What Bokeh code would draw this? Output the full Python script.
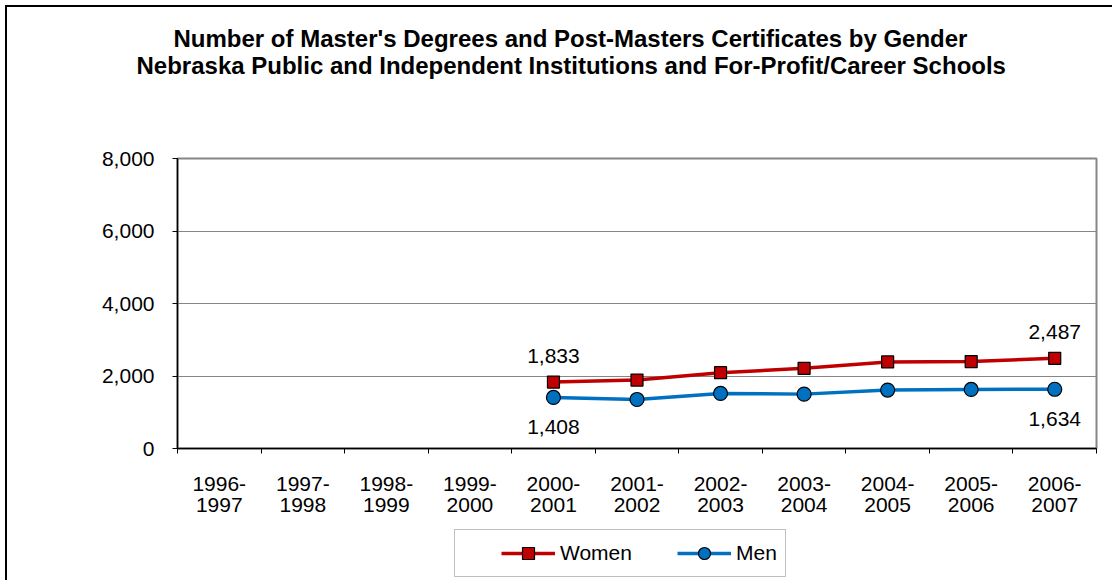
from bokeh.plotting import figure
from bokeh.layouts import column
from bokeh.models import (ColumnDataSource, FixedTicker, NumeralTickFormatter, Range1d,
                          Legend, LegendItem, LabelSet, Title)
from bokeh.core.properties import value
from bokeh.embed import file_html
from bokeh.resources import INLINE

# ---- data ----
years = ["1996-1997", "1997-1998", "1998-1999", "1999-2000", "2000-2001", "2001-2002",
         "2002-2003", "2003-2004", "2004-2005", "2005-2006", "2006-2007"]
women = [None, None, None, None, 1833, 1888, 2092, 2212, 2388, 2397, 2487]
men = [None, None, None, None, 1408, 1352, 1519, 1500, 1612, 1630, 1634]
y_ticks = [0, 2000, 4000, 6000, 8000]
title_lines = ["Number of Master's Degrees and Post-Masters Certificates by Gender",
               "Nebraska Public and Independent Institutions and For-Profit/Career Schools"]

FONT = "Liberation Sans"
FS = "21px"
WOMEN_C, MEN_C = "#C00000", "#0070C0"

xs = [i + 0.5 for i in range(len(years))]
wv = [float("nan") if v is None else v for v in women]
mv = [float("nan") if v is None else v for v in men]
src = ColumnDataSource(dict(x=xs, women=wv, men=mv))

p = figure(width=1105, height=521, frame_width=919, frame_height=290,
           output_backend="svg", toolbar_location=None, title=None,
           x_range=Range1d(0, len(years)), y_range=Range1d(0, 8000),
           min_border_left=170, min_border_right=16, min_border_top=151,
           min_border_bottom=80)
p.background_fill_color = "white"
p.border_fill_color = "white"
p.outline_line_color = "#868686"
p.outline_line_width = 2

# x axis: labels at centres, ticks at boundaries (minor ticks)
xa = p.xaxis[0]
xa.ticker = FixedTicker(ticks=xs, minor_ticks=list(range(len(years) + 1)))
xa.major_label_overrides = {x: y.replace("-", "-\n", 1) for x, y in zip(xs, years)}
xa.major_tick_line_color = None
xa.major_tick_out = 0
xa.major_tick_in = 0
xa.minor_tick_line_color = "black"
xa.minor_tick_out = 5
xa.minor_tick_in = 0
xa.axis_line_color = "black"
xa.axis_line_width = 1.5
xa.major_label_standoff = 18
xa.major_label_text_font = FONT
xa.major_label_text_font_size = FS
xa.major_label_text_color = "black"
xa.major_label_text_line_height = 0.95

ya = p.yaxis[0]
ya.ticker = FixedTicker(ticks=y_ticks)
ya.formatter = NumeralTickFormatter(format="0,0")
ya.minor_tick_line_color = None
ya.major_tick_out = 5
ya.major_tick_in = 0
ya.major_tick_line_color = "black"
ya.axis_line_color = "black"
ya.axis_line_width = 1.5
ya.major_label_standoff = 18
ya.major_label_text_font = FONT
ya.major_label_text_font_size = FS
ya.major_label_text_color = "black"

p.xgrid.grid_line_color = None
p.ygrid.grid_line_color = "#868686"
p.ygrid.grid_line_width = 1

# series
p.line("x", "women", source=src, line_color=WOMEN_C, line_width=3.5)
p.scatter("x", "women", source=src, marker="square", size=12,
          fill_color=WOMEN_C, line_color="black", line_width=1.2)
p.line("x", "men", source=src, line_color=MEN_C, line_width=3.5)
p.scatter("x", "men", source=src, marker="circle", size=14,
          fill_color=MEN_C, line_color="black", line_width=1.2)

# data labels at first and last points
def ends(vals):
    idx = [i for i, v in enumerate(vals) if v is not None]
    return [idx[0], idx[-1]]

wi, mi = ends(women), ends(men)
wlab = ColumnDataSource(dict(x=[xs[i] for i in wi], y=[women[i] for i in wi],
                             t=[f"{women[i]:,}" for i in wi]))
mlab = ColumnDataSource(dict(x=[xs[i] for i in mi], y=[men[i] for i in mi],
                             t=[f"{men[i]:,}" for i in mi]))
for s, off in ((wlab, 26), (mlab, -30)):
    p.add_layout(LabelSet(x="x", y="y", text="t", source=s, y_offset=off,
                          text_align="center", text_baseline="middle",
                          text_font=value(FONT), text_font_size=value(FS),
                          text_color="black"))

# title: spacer nearest the plot, then line 2, then line 1
p.add_layout(Title(text=" ", standoff=66, text_font_size="10px"), "above")
p.add_layout(Title(text=title_lines[1], align="left", offset=-41, standoff=1,
                   text_font=FONT, text_font_size="24px", text_font_style="bold",
                   text_color="black"), "above")
p.add_layout(Title(text=title_lines[0], align="left", offset=-4, standoff=-5,
                   text_font=FONT, text_font_size="24px", text_font_style="bold",
                   text_color="black"), "above")

# legend strip (its own small figure, glyphs styled like the series)
lg = figure(width=1105, height=52, output_backend="svg", toolbar_location=None,
            title=None, x_axis_location=None, y_axis_location=None,
            x_range=Range1d(0, 1), y_range=Range1d(0, 1),
            min_border_left=0, min_border_right=0, min_border_top=0, min_border_bottom=0)
lg.outline_line_color = None
lg.grid.visible = False
lg.background_fill_color = "white"
lg.border_fill_color = "white"
nan = float("nan")
e = dict(x=[nan], y=[nan])
lwl = lg.line(x="x", y="y", source=ColumnDataSource(e), line_color=WOMEN_C, line_width=3.5)
lws = lg.scatter(x="x", y="y", source=ColumnDataSource(e), marker="square", size=12,
                 fill_color=WOMEN_C, line_color="black", line_width=1.2)
lml = lg.line(x="x", y="y", source=ColumnDataSource(e), line_color=MEN_C, line_width=3.5)
lms = lg.scatter(x="x", y="y", source=ColumnDataSource(e), marker="circle", size=12,
                 fill_color=MEN_C, line_color="black", line_width=1.2)

legend = Legend(items=[LegendItem(label="Women", renderers=[lwl, lws]),
                       LegendItem(label="Men", renderers=[lml, lms])],
                orientation="horizontal", location=(277, 3),
                title=" ", title_location="left", title_standoff=14,
                title_text_font=FONT, title_text_font_size=FS,
                glyph_width=54, glyph_height=30, label_standoff=5, spacing=45,
                padding=8, margin=0, border_line_color="#808080", border_line_width=1,
                background_fill_color="white",
                label_text_font=FONT, label_text_font_size=FS, label_text_color="black")
lg.add_layout(legend, "center")

layout = column(p, lg, spacing=0,
                styles={"border-left": "2px solid black", "border-top": "2px solid black",
                        "margin-left": "5px", "margin-top": "5px"})

open("out.html", "w").write(file_html(layout, INLINE))
